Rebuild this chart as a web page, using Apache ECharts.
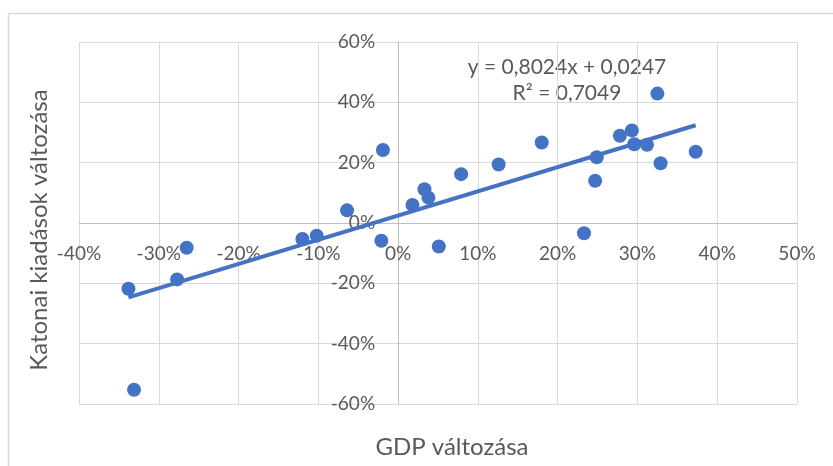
<!DOCTYPE html>
<html><head><meta charset="utf-8">
<script src="https://cdn.jsdelivr.net/npm/echarts@6/dist/echarts.min.js"></script>
<style>html,body{margin:0;padding:0;background:#fff}#c{width:833px;height:466px}</style>
</head><body><div id="c"></div>
<script>
// GDP change (%) and military spending change (%)
const gdpChange = [-33.8,-33.1,-27.7,-26.5,-12.0,-10.2,-6.4,-2.1,-1.9,1.8,3.3,3.8,5.1,7.9,12.6,18.0,23.3,24.7,24.9,27.8,29.3,29.6,31.2,32.5,32.9,37.3];
const milChange = [-21.8,-55.3,-18.7,-8.2,-5.3,-4.2,4.2,-5.9,24.2,6.0,11.2,8.4,-7.8,16.2,19.4,26.7,-3.4,14.0,21.8,28.9,30.7,26.1,25.9,42.9,19.8,23.6];
const trendSlope = 0.8024, trendIntercept = 0.0247, trendR2 = 0.7049;
const xTicks = [-40,-30,-20,-10,0,10,20,30,40,50];
const yTicks = [-60,-40,-20,0,20,40,60];

const pts = gdpChange.map((x,i)=>[x, milChange[i]]);
const xmin = Math.min(...gdpChange), xmax = Math.max(...gdpChange);
const trend = [[xmin, (trendSlope*xmin/100+trendIntercept)*100],[xmax,(trendSlope*xmax/100+trendIntercept)*100]];
const fmt = v => (v.toFixed(4).replace('.', ','));
const font = 'Lato';
const G = {left:79,right:36,top:42,bottom:62};
const W = 833, H = 466;
const gw = W-G.left-G.right, gh = H-G.top-G.bottom;
const xA = xTicks[0], xB = xTicks[xTicks.length-1], yA = yTicks[0], yB = yTicks[yTicks.length-1];
const yAxisOffset = -gw*(0-xA)/(xB-xA);
const xAxisOffset = -gh*(0-yA)/(yB-yA);
const chart = echarts.init(document.getElementById('c'));
chart.setOption({
  animation:false,
  grid:G,
  xAxis:{type:'value',min:xA,max:xB,interval:10,position:'bottom',offset:xAxisOffset,
    axisLine:{onZero:false,lineStyle:{color:'#bfbfbf',width:1}},axisTick:{show:false},
    axisLabel:{formatter:v=>v+'%',color:'#595959',fontSize:19,fontFamily:font,margin:21},
    splitLine:{show:true,lineStyle:{color:'#d9d9d9',width:1}}},
  yAxis:{type:'value',min:yA,max:yB,interval:20,position:'left',offset:yAxisOffset,
    axisLine:{show:true,onZero:false,lineStyle:{color:'#bfbfbf',width:1}},axisTick:{show:false},
    axisLabel:{formatter:v=>v+'%',color:'#595959',fontSize:19,fontFamily:font,margin:23},
    splitLine:{show:true,lineStyle:{color:'#d9d9d9',width:1}}},
  series:[
    {type:'scatter',data:pts,symbolSize:14,itemStyle:{color:'#4472C4',opacity:1},z:2},
    {type:'line',data:trend,showSymbol:false,symbol:'none',lineStyle:{color:'#4472C4',width:4},z:3}
  ],
  graphic:[
    {type:'rect',shape:{x:8.5,y:13.5,width:900,height:600},style:{fill:'none',stroke:'#d9d9d9',lineWidth:1.5},z:-1},
    {type:'text',x:567,y:67,style:{text:'y = '+fmt(trendSlope)+'x + '+fmt(trendIntercept),font:'21px '+font,fill:'#595959',align:'center',verticalAlign:'middle'}},
    {type:'text',x:567,y:93,style:{text:'R² = '+fmt(trendR2),font:'21px '+font,fill:'#595959',align:'center',verticalAlign:'middle'}},
    {type:'text',x:452,y:447,style:{text:'GDP változása',font:'24px '+font,fill:'#595959',align:'center',verticalAlign:'middle'}},
    {type:'text',x:39,y:230,rotation:Math.PI/2,style:{text:'Katonai kiadások változása',font:'24px '+font,fill:'#595959',align:'center',verticalAlign:'middle'}}
  ]
});
</script></body></html>
